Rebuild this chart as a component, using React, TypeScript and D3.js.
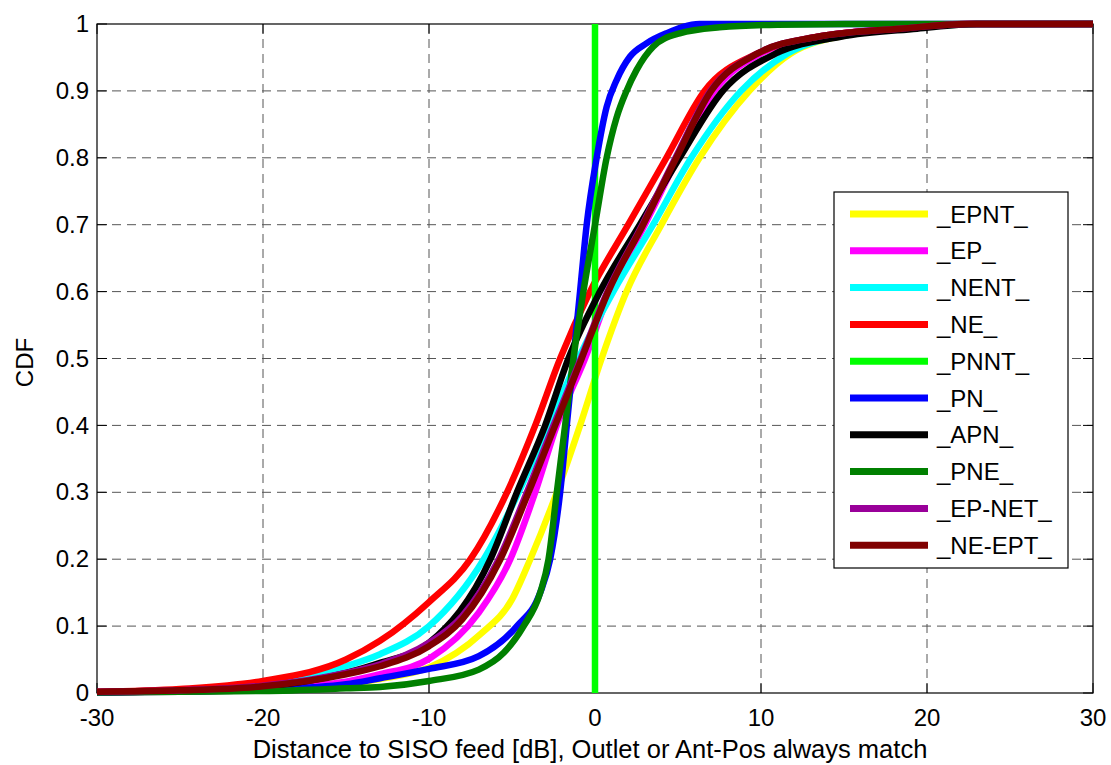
import React from 'react';
import * as d3 from 'd3';

// CDF curves: [distance dB, CDF]
const epnt: [number, number][] = [
  [-30, 0.001], [-25, 0.002], [-20, 0.005], [-15, 0.013], [-12.95, 0.021], [-10, 0.038],
  [-6.9, 0.088], [-5, 0.14], [-3.9, 0.2], [-2.3, 0.3], [-0.9, 0.4], [0.4, 0.5],
  [1.9, 0.6], [4.0, 0.7], [6.3, 0.8], [9.3, 0.9], [11.8, 0.956], [15.5, 0.985],
  [19.5, 0.996], [23, 1], [30, 1],
];
const ep: [number, number][] = [
  [-30, 0.001], [-25, 0.003], [-20, 0.007], [-15, 0.017], [-12.95, 0.028], [-10, 0.051],
  [-7, 0.12], [-5.1, 0.2], [-3.6, 0.3], [-2.3, 0.4], [-0.6, 0.5], [0.9, 0.6],
  [3.0, 0.7], [5.0, 0.8], [7.2, 0.9], [10, 0.956], [13.6, 0.981], [18.4, 0.994],
  [22.5, 1], [30, 1],
];
const nent: [number, number][] = [
  [-30, 0.001], [-25, 0.004], [-20, 0.012], [-15, 0.04], [-12.95, 0.058], [-10, 0.1],
  [-6.7, 0.2], [-4.6, 0.3], [-2.8, 0.4], [-1.0, 0.5], [1.1, 0.6], [3.5, 0.7],
  [5.8, 0.8], [8.8, 0.9], [11.6, 0.956], [15.5, 0.985], [19.5, 0.995], [23, 1], [30, 1],
];
const ne: [number, number][] = [
  [-30, 0.002], [-25, 0.006], [-20, 0.018], [-15, 0.05], [-12.95, 0.078], [-10, 0.136],
  [-7.5, 0.2], [-5.3, 0.3], [-3.6, 0.4], [-2.1, 0.5], [-0.3, 0.6], [2.0, 0.7],
  [4.3, 0.8], [6.6, 0.9], [9.8, 0.956], [13.4, 0.981], [18.4, 0.993], [22, 1], [30, 1],
];
const pnnt: [number, number][] = [
  [0, 0], [0, 1],
];
const pn: [number, number][] = [
  [-30, 0.001], [-25, 0.002], [-20, 0.005], [-15, 0.013], [-12.95, 0.022], [-10, 0.036],
  [-7, 0.055], [-4.7, 0.1], [-3.3, 0.15], [-2.7, 0.2], [-2.1, 0.3], [-1.7, 0.4],
  [-1.3, 0.5], [-0.9, 0.6], [-0.5, 0.7], [0.1, 0.8], [0.7, 0.876], [1.3, 0.916],
  [2.1, 0.951], [3.1, 0.971], [4.3, 0.986], [6.3, 1], [30, 1],
];
const apn: [number, number][] = [
  [-30, 0.001], [-25, 0.003], [-20, 0.009], [-15, 0.03], [-12.95, 0.045], [-10, 0.075],
  [-6.3, 0.2], [-4.7, 0.3], [-3.0, 0.4], [-1.6, 0.5], [0.3, 0.6], [2.7, 0.7],
  [5.1, 0.8], [7.7, 0.9], [10.9, 0.956], [14.8, 0.981], [19.4, 0.993], [23, 1], [30, 1],
];
const pne: [number, number][] = [
  [-30, 0.001], [-25, 0.002], [-20, 0.003], [-15, 0.007], [-12.95, 0.009], [-10, 0.018],
  [-7, 0.035], [-5.5, 0.06], [-4.3, 0.1], [-3.3, 0.15], [-2.8, 0.2], [-2.3, 0.3],
  [-1.8, 0.4], [-1.3, 0.5], [-0.7, 0.6], [0, 0.7], [0.7, 0.8], [1.3, 0.86],
  [1.9, 0.9], [2.5, 0.931], [3.5, 0.966], [5.1, 0.986], [7.5, 0.995], [11, 0.999],
  [16, 1], [30, 1],
];
const epNet: [number, number][] = [
  [-30, 0.002], [-25, 0.004], [-20, 0.011], [-15, 0.03], [-12.95, 0.043], [-10, 0.075],
  [-8, 0.115], [-5.8, 0.2], [-4.1, 0.3], [-2.5, 0.4], [-0.85, 0.5], [0.75, 0.6],
  [2.85, 0.7], [4.85, 0.8], [6.95, 0.9], [9.8, 0.956], [13.4, 0.981], [18.4, 0.993],
  [22.5, 1], [30, 1],
];
const neEpt: [number, number][] = [
  [-30, 0.002], [-25, 0.004], [-20, 0.01], [-15, 0.028], [-12.95, 0.04], [-10, 0.07],
  [-8, 0.11], [-5.7, 0.2], [-4.0, 0.3], [-2.4, 0.4], [-0.8, 0.5], [0.8, 0.6],
  [2.9, 0.7], [4.9, 0.8], [7.0, 0.9], [9.8, 0.956], [13.4, 0.981], [18.4, 0.993],
  [22.5, 1], [30, 1],
];

const seriesNames = ['_EPNT_', '_EP_', '_NENT_', '_NE_', '_PNNT_', '_PN_', '_APN_', '_PNE_', '_EP-NET_', '_NE-EPT_'];
const seriesValues = [epnt, ep, nent, ne, pnnt, pn, apn, pne, epNet, neEpt];
const seriesColors = ['#ffff00', '#ff00ff', '#00ffff', '#ff0000', '#00ff00', '#0000ff', '#000000', '#008000', '#990099', '#800000'];

const xTicks = [-30, -20, -10, 0, 10, 20, 30];
const yTicks = [0, 0.1, 0.2, 0.3, 0.4, 0.5, 0.6, 0.7, 0.8, 0.9, 1];

const W = 1111;
const H = 765;
const margin = { top: 24, right: 18, bottom: 72, left: 97 };
const font = '"Liberation Sans", Arial, Helvetica, sans-serif';

const App: React.FC = () => {
  const innerW = W - margin.left - margin.right;
  const innerH = H - margin.top - margin.bottom;

  const x = d3.scaleLinear().domain([-30, 30]).range([0, innerW]);
  const y = d3.scaleLinear().domain([0, 1]).range([innerH, 0]);

  const smooth = d3.line<[number, number]>()
    .x(d => x(d[0]))
    .y(d => y(d[1]))
    .curve(d3.curveMonotoneX);
  const straight = d3.line<[number, number]>()
    .x(d => x(d[0]))
    .y(d => y(d[1]));

  const tickLen = 10;
  const grid = '#555';

  // legend placement
  const lg = { x: 834 - margin.left, y: 192 - margin.top, w: 234, h: 376 };
  const rowH = 36.8;

  return (
    <svg width={W} height={H} style={{ position: 'absolute', left: 0, top: 0, background: '#fff' }}
      fontFamily={font}>
      <rect width={W} height={H} fill="#fff" />
      <g transform={`translate(${margin.left},${margin.top})`}>
        {/* grid */}
        {xTicks.slice(1, -1).map(t => (
          <line key={'gx' + t} x1={x(t)} x2={x(t)} y1={0} y2={innerH}
            stroke={grid} strokeWidth={1} strokeDasharray="9,6" />
        ))}
        {yTicks.slice(1, -1).map(t => (
          <line key={'gy' + t} x1={0} x2={innerW} y1={y(t)} y2={y(t)}
            stroke={grid} strokeWidth={1} strokeDasharray="9,6" />
        ))}
        {/* axes box and ticks */}
        <rect x={0} y={0} width={innerW} height={innerH} fill="none" stroke="#000" strokeWidth={1.2} />
        {xTicks.map(t => (
          <g key={'tx' + t}>
            <line x1={x(t)} x2={x(t)} y1={innerH} y2={innerH - tickLen} stroke="#000" />
            <line x1={x(t)} x2={x(t)} y1={0} y2={tickLen} stroke="#000" />
            <text x={x(t)} y={innerH + 33} textAnchor="middle" fontSize={24} fill="#000">{t}</text>
          </g>
        ))}
        {yTicks.map(t => (
          <g key={'ty' + t}>
            <line x1={0} x2={tickLen} y1={y(t)} y2={y(t)} stroke="#000" />
            <line x1={innerW} x2={innerW - tickLen} y1={y(t)} y2={y(t)} stroke="#000" />
            <text x={-8} y={y(t)} dy="0.34em" textAnchor="end" fontSize={24} fill="#000">{d3.format('~g')(t)}</text>
          </g>
        ))}
        {/* curves */}
        {seriesValues.map((s, i) => (
          <path key={seriesNames[i]} d={(i === 4 ? straight(s) : smooth(s)) || ''} fill="none"
            stroke={seriesColors[i]} strokeWidth={6.5} strokeLinejoin="round" />
        ))}
        {/* legend */}
        <g transform={`translate(${lg.x},${lg.y})`}>
          <rect x={0} y={0} width={lg.w} height={lg.h} fill="#fff" stroke="#000" strokeWidth={1.2} />
          {seriesNames.map((n, i) => (
            <g key={'lg' + n} transform={`translate(0,${22 + i * rowH})`}>
              <line x1={16} x2={94} y1={0} y2={0} stroke={seriesColors[i]} strokeWidth={7} />
              <text x={103} y={0} dy="0.36em" fontSize={24} fill="#000">{n}</text>
            </g>
          ))}
        </g>
      </g>
      {/* axis labels */}
      <text x={margin.left + innerW / 2 - 5} y={758} textAnchor="middle" fontSize={25.5} fill="#000">
        Distance to SISO feed [dB], Outlet or Ant-Pos always match
      </text>
      <text transform={`translate(33,${margin.top + innerH / 2 + 4}) rotate(-90)`} textAnchor="middle"
        fontSize={24} fill="#000">CDF</text>
    </svg>
  );
};

export default App;
